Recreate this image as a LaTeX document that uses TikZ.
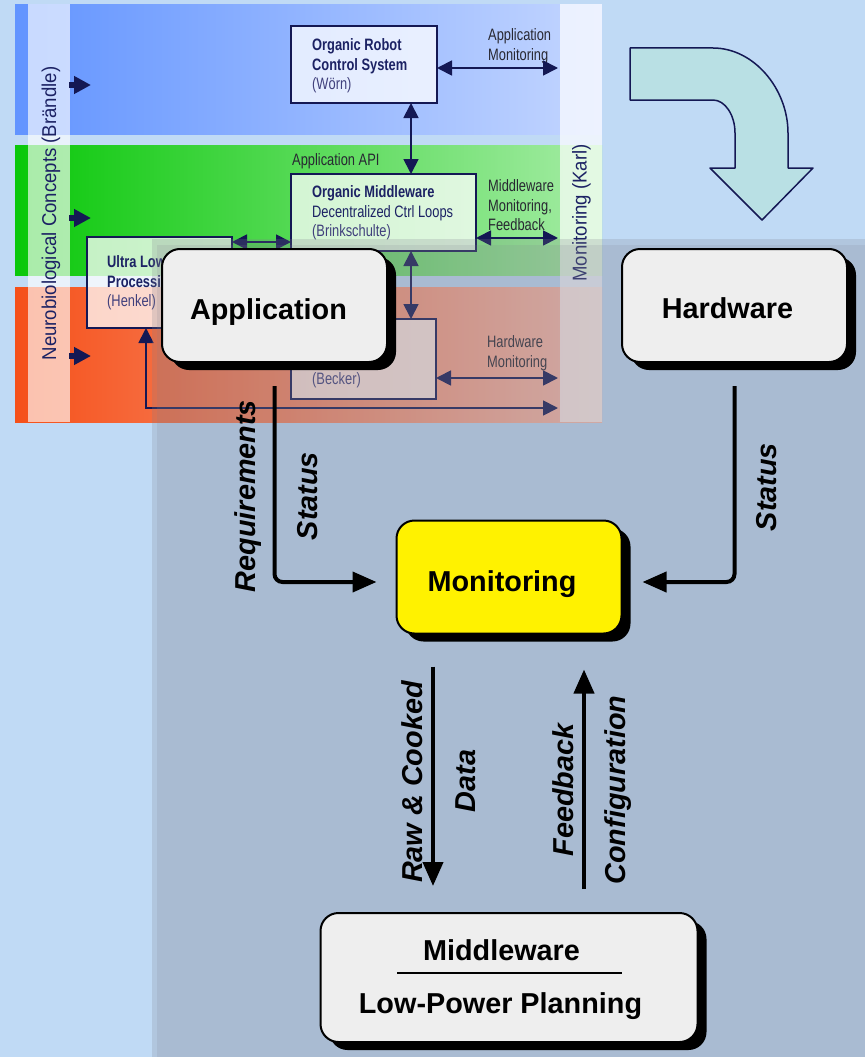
\documentclass[tikz,border=0pt]{standalone}
\usepackage{fontspec}
\setmainfont{Liberation Sans}
\newfontfamily\narrowsf{Liberation Sans}[FakeStretch=0.78]
\newfontfamily\colsf{Liberation Sans}[FakeStretch=0.93]
\usetikzlibrary{arrows.meta,shadows}

\definecolor{pagebg}{RGB}{192,218,245}
\definecolor{panelgrey}{RGB}{127,127,142}
\definecolor{navy}{RGB}{20,24,84}
\definecolor{navytext}{RGB}{28,34,100}
\definecolor{softnavy}{RGB}{64,64,124}
\definecolor{labelgrey}{RGB}{40,40,50}
\definecolor{bandblueL}{RGB}{98,148,255}
\definecolor{bandblueR}{RGB}{196,214,255}
\definecolor{bandgreenL}{RGB}{10,200,10}
\definecolor{bandgreenR}{RGB}{165,236,165}
\definecolor{bandredL}{RGB}{245,80,25}
\definecolor{bandredR}{RGB}{250,192,178}
\definecolor{turnfill}{RGB}{185,224,228}
\definecolor{boxgrey}{RGB}{238,238,238}

\begin{document}
\begin{tikzpicture}[x=1pt,y=-1pt,
  % small architecture sketch
  ibox/.style={draw=navy, line width=1.6pt, fill=white, fill opacity=0.75,
    inner sep=0pt, outer sep=0pt, anchor=north west},
  itext/.style={anchor=west, align=left, inner sep=0pt, text=navytext,
    font=\narrowsf\fontsize{16.5}{19.5}\selectfont},
  ilabel/.style={itext, text=labelgrey},
  coltext/.style={rotate=90, inner sep=0pt, text=navytext,
    font=\colsf\fontsize{20}{24}\selectfont},
  dbl/.style={draw=navy, line width=1.8pt,
    {Triangle[length=15pt,width=15pt]}-{Triangle[length=15pt,width=15pt]}},
  inarrow/.style={draw=navy, line width=6pt, -{Triangle[length=17pt,width=17pt]}},
  turnarrow/.style={draw=navy, line width=1.5pt, fill=turnfill, line join=round},
  % main flow diagram
  mainbox/.style={draw=black, line width=2pt, fill=boxgrey, rounded corners=18pt,
    minimum width=225pt, minimum height=113pt, inner sep=0pt,
    drop shadow={opacity=1, fill=black, shadow xshift=9pt, shadow yshift=-8pt}},
  boxtext/.style={anchor=base, inner sep=0pt, font=\fontsize{28.8}{34}\selectfont\bfseries},
  flowlabel/.style={anchor=base, rotate=90, inner sep=0pt,
    font=\fontsize{28.8}{34}\selectfont\bfseries\itshape},
  flow/.style={draw=black, line width=4pt, -{Triangle[length=24pt,width=20pt]}},
]
\useasboundingbox (0,0) rectangle (865,1057);
\fill[pagebg] (0,0) rectangle (865,1057);

% ---- layered architecture sketch ----
\shade[left color=bandblueL, right color=bandblueR] (15,5) rectangle (602,134);
\shade[left color=bandgreenL, right color=bandgreenR] (15,145) rectangle (602,275);
\shade[left color=bandredL, right color=bandredR] (15,287) rectangle (602,422);
\fill[white, fill opacity=0.65] (28,4) rectangle (70,422);
\fill[white, fill opacity=0.7] (560,4) rectangle (602,422);

\node[coltext] (neuroT) at (51,213.5) {Neurobiological Concepts (Brändle)};
\node[coltext] (karlT) at (581.5,213) {Monitoring (Karl)};

\coordinate (inBa) at (69,85);  \coordinate (inBb) at (91,85);
\coordinate (inGa) at (69,218); \coordinate (inGb) at (91,218);
\coordinate (inRa) at (69,356); \coordinate (inRb) at (91,356);
\draw[inarrow] (inBa) -- (inBb);
\draw[inarrow] (inGa) -- (inGb);
\draw[inarrow] (inRa) -- (inRb);

\node[ibox, minimum width=146pt, minimum height=77pt] (robot) at (291,26) {};
\node[ibox, minimum width=185pt, minimum height=77pt] (omw) at (291,174) {};
\node[ibox, minimum width=145pt, minimum height=91pt] (ultra) at (87,237) {};
\node[ibox, minimum width=145pt, minimum height=80pt] (becker) at (291,319) {};

\node[itext] (robotT) at (312,66)
  {\textbf{Organic Robot}\\\textbf{Control System}\\\textcolor{softnavy}{(Wörn)}};
\node[itext] (omwT) at (312,213)
  {\textbf{Organic Middleware}\\Decentralized Ctrl Loops\\\textcolor{softnavy}{(Brinkschulte)}};
\node[itext] (ultraT) at (107,283)
  {\textbf{Ultra Low Power}\\\textbf{Processing}\\\textcolor{softnavy}{(Henkel)}};
\node[itext] (beckerT) at (312,380) {\textcolor{softnavy}{(Becker)}};

\node[ilabel] (apiT) at (292,161) {Application API};
\node[ilabel] (amonT) at (488,46) {Application\\Monitoring};
\node[ilabel] (mmonT) at (488,205.5) {Middleware\\Monitoring,\\Feedback};
\node[ilabel] (hmonT) at (487,353) {Hardware\\Monitoring};

\coordinate (apiX) at (411,0);
\coordinate (ulY) at (0,242);
\coordinate (ulX) at (146,0);
\coordinate (monA) at (558,68);
\coordinate (monM) at (558,238);
\coordinate (monH) at (558,378);
\coordinate (monL) at (558,408);
\draw[dbl] (robot.south -| apiX) -- (omw.north -| apiX);
\draw[dbl] (omw.south -| apiX) -- (becker.north -| apiX);
\draw[dbl] (ultra.east |- ulY) -- (omw.west |- ulY);
\draw[dbl] (robot.east |- monA) -- (monA);
\draw[dbl] (omw.east |- monM) -- (monM);
\draw[dbl] (becker.east |- monH) -- (monH);
\draw[dbl] (ultra.south -| ulX) |- (monL);

% turn arrow
\draw[turnarrow] (630,48) -- (713,48) .. controls (754,48) and (788,89) .. (788,133)
  -- (788,168) -- (813,168) -- (762,220) -- (710,168) -- (735,168) -- (735,133)
  .. controls (735,115) and (725,100) .. (713,100) -- (630,100) -- cycle;

% ---- translucent panel ----
\fill[panelgrey, fill opacity=0.22] (152,239) rectangle (865,1057);
\fill[panelgrey, fill opacity=0.15] (157,245) rectangle (865,1057);

% ---- main flow ----
\node[mainbox] (app) at (274.5,305.5) {};
\node[mainbox] (hw) at (734.5,305.5) {};
\node[mainbox, fill=yellow] (mon) at (509,577) {};
\node[mainbox, minimum width=377pt, minimum height=129pt] (mw) at (509,977.5) {};

\node[boxtext] (appT) at (268.5,319) {Application};
\node[boxtext] (hwT) at (727.5,318) {Hardware};
\node[boxtext] (monT) at (502,591) {Monitoring};
\node[boxtext] (mwA) at (501.5,960) {Middleware};
\node[boxtext] (mwB) at (500.5,1013) {Low-Power Planning};
\coordinate (sepL) at (397,973);
\coordinate (sepR) at (622,973);
\draw[line width=1.8pt] (sepL) -- (sepR);

\draw[flow, rounded corners=8pt] ([yshift=-23pt]app.south) |- ([xshift=-19pt,yshift=-5pt]mon.west);
\draw[flow, rounded corners=8pt] ([yshift=-23pt]hw.south) |- ([xshift=20pt,yshift=-5pt]mon.east);
\draw[flow] ([xshift=-76pt,yshift=-32pt]mon.south) -- ([xshift=-76pt,yshift=26pt]mw.north);
\draw[flow] ([xshift=75pt,yshift=23pt]mw.north) -- ([xshift=75pt,yshift=-35pt]mon.south);

\node[flowlabel] (reqT) at (255,496) {Requirements};
\node[flowlabel] (stLT) at (317,496) {Status};
\node[flowlabel] (stRT) at (776,487) {Status};
\node[flowlabel] (rawT) at (422,782) {Raw \& Cooked};
\node[flowlabel] (dataT) at (475,781) {Data};
\node[flowlabel] (fbT) at (573,790) {Feedback};
\node[flowlabel] (cfgT) at (625,790) {Configuration};
\end{tikzpicture}
\end{document}
